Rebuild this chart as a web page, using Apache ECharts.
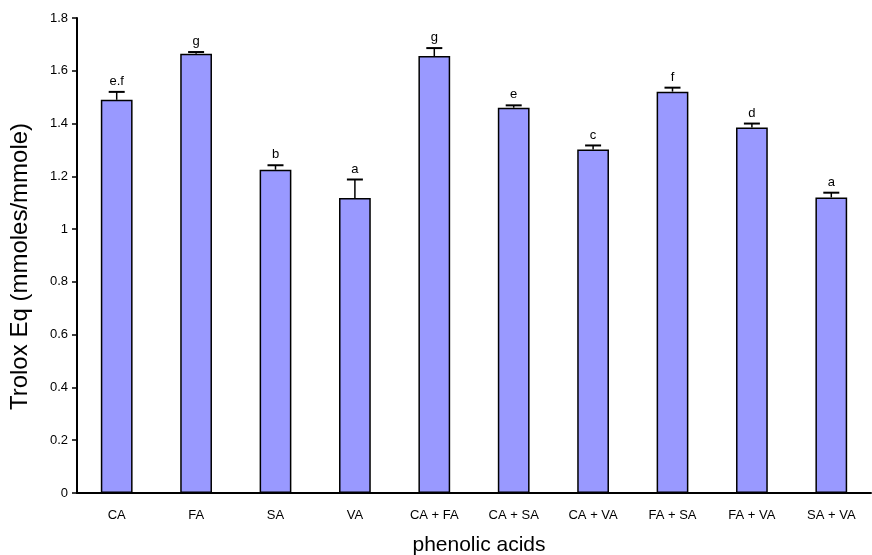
<!DOCTYPE html>
<html><head><meta charset="utf-8">
<script src="https://cdn.jsdelivr.net/npm/echarts@6/dist/echarts.min.js"></script>
<style>html,body{margin:0;padding:0;background:#fff}#c{width:872px;height:555px}</style>
</head><body><div id="c"></div>
<script>
const categories = ['CA','FA','SA','VA','CA + FA','CA + SA','CA + VA','FA + SA','FA + VA','SA + VA'];
const values = [1.49, 1.665, 1.225, 1.118, 1.656, 1.46, 1.302, 1.521, 1.385, 1.12];
const errors = [0.03, 0.006, 0.017, 0.07, 0.03, 0.009, 0.015, 0.015, 0.015, 0.018];
const letters = ['e.f','g','b','a','g','e','c','f','d','a'];
const yTicks = [0,0.2,0.4,0.6,0.8,1,1.2,1.4,1.6,1.8];

const chart = echarts.init(document.getElementById('c'));
const font = 'Liberation Sans, Arial, sans-serif';
chart.setOption({
  animation: false,
  grid: {left: 77, right: 1, top: 18, bottom: 62, outerBoundsMode: 'none', containLabel: false},
  xAxis: {
    type: 'category', data: categories,
    axisLine: {lineStyle: {color: '#000', width: 2}},
    axisTick: {show: false},
    axisLabel: {color: '#000', fontFamily: font, fontSize: 13, margin: 16},
    name: 'phenolic acids', nameLocation: 'middle', nameGap: 42,
    nameTextStyle: {color: '#000', fontFamily: font, fontSize: 21, padding: [0, 0, 0, 10]}
  },
  yAxis: {
    type: 'value', min: 0, max: 1.8, interval: 0.2,
    axisLine: {show: true, lineStyle: {color: '#000', width: 2}},
    axisTick: {show: true, length: 5, lineStyle: {color: '#000', width: 1.5}},
    splitLine: {show: false},
    axisLabel: {color: '#000', fontFamily: font, fontSize: 13, margin: 9,
      formatter: v => String(parseFloat(v.toFixed(1)))},
    name: 'Trolox Eq (mmoles/mmole)', nameLocation: 'middle', nameGap: 45,
    nameTextStyle: {color: '#000', fontFamily: font, fontSize: 24, padding: [0, 22, 0, 0]}
  },
  series: [
    {
      type: 'bar', data: values, barWidth: '40%',
      itemStyle: {color: '#9999ff', borderColor: '#000', borderWidth: 1.5},
      z: 2
    },
    {
      type: 'custom', z: 3,
      data: values.map((v, i) => [i, v, errors[i], letters[i]]),
      renderItem: function (params, api) {
        const x = api.coord([api.value(0), 0])[0];
        const yb = api.coord([0, api.value(1)])[1];
        const yt = api.coord([0, api.value(1) + api.value(2)])[1];
        const half = 8;
        return {
          type: 'group',
          children: [
            {type: 'line', shape: {x1: x, y1: yb, x2: x, y2: yt}, style: {stroke: '#000', lineWidth: 1.5}},
            {type: 'line', shape: {x1: x - half, y1: yt, x2: x + half, y2: yt}, style: {stroke: '#000', lineWidth: 2}},
            {type: 'text', style: {text: letters[params.dataIndex], x: x, y: yt - 4, textAlign: 'center', textVerticalAlign: 'bottom', fill: '#000', font: '13px ' + font}}
          ]
        };
      }
    }
  ]
});
</script></body></html>
